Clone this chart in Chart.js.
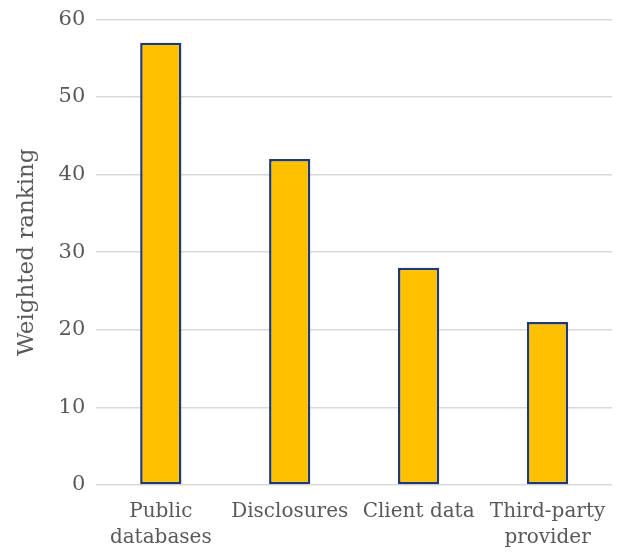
<!DOCTYPE html>
<html>
<head>
<meta charset="utf-8">
<script src="https://cdn.jsdelivr.net/npm/chart.js@4"></script>
<style>
  html, body { margin: 0; padding: 0; background: #fff; }
  #wrap { width: 623px; height: 554px; }
</style>
</head>
<body>
<div id="wrap"><canvas id="myChart"></canvas></div>
<script>
// data
const categories = [['Public', 'databases'], 'Disclosures', 'Client data', ['Third-party', 'provider']];
const rankingValues = [57, 42, 28, 21];
const yTicks = [0, 10, 20, 30, 40, 50, 60];

const fontFamily = "'DejaVu Serif', Georgia, serif";
const textColor = '#595959';

const ctx = document.getElementById('myChart').getContext('2d');
const myChart = new Chart(ctx, {
  type: 'bar',
  data: {
    labels: categories,
    datasets: [{
      data: rankingValues,
      backgroundColor: '#FFC000',
      borderColor: '#1F3A73',
      borderWidth: 2.5,
      borderSkipped: false,
      barPercentage: 0.32,
      categoryPercentage: 1.0
    }]
  },
  options: {
    responsive: true,
    maintainAspectRatio: false,
    animation: false,
    layout: {
      padding: { top: 1, right: 11, left: 13, bottom: -11 }
    },
    plugins: {
      legend: { display: false },
      tooltip: { enabled: false }
    },
    scales: {
      y: {
        min: 0,
        max: 60,
        afterBuildTicks: (axis) => { axis.ticks = yTicks.map(v => ({ value: v })); },
        ticks: {
          color: textColor,
          font: { family: fontFamily, size: 21, lineHeight: 0.8 },
          padding: 11
        },
        border: { display: false },
        grid: { color: '#d9d9d9', lineWidth: 1.5, drawTicks: false },
        title: {
          display: true,
          text: 'Weighted ranking',
          color: textColor,
          font: { family: fontFamily, size: 23 },
          padding: { top: 0, bottom: 7 }
        }
      },
      x: {
        ticks: {
          color: textColor,
          font: { family: fontFamily, size: 20, lineHeight: 1.3 },
          padding: 14,
          maxRotation: 0,
          autoSkip: false
        },
        border: { display: false },
        grid: { display: false, drawTicks: false }
      }
    }
  }
});
</script>
</body>
</html>
